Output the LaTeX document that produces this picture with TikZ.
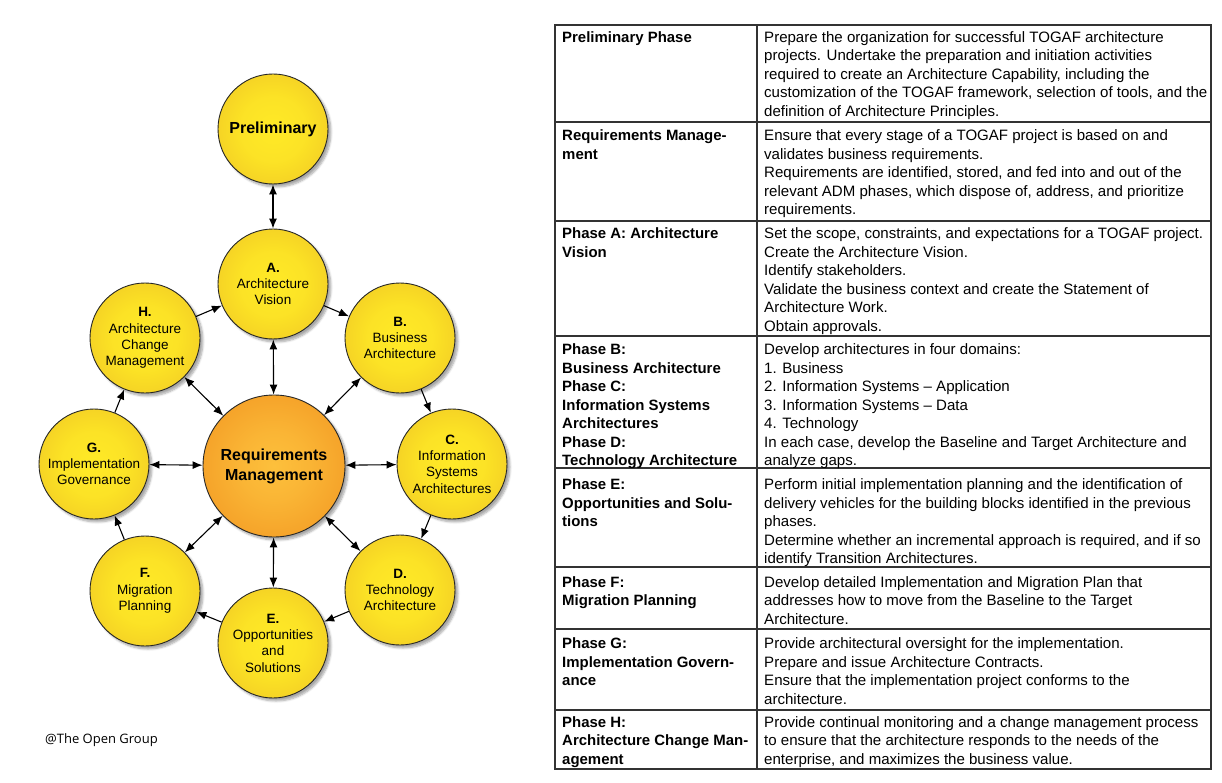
\documentclass[tikz,border=0pt]{standalone}
\usepackage{fontspec}
\setmainfont{Liberation Sans}
\newfontfamily\notefont{Open Sans}
\usetikzlibrary{positioning,shapes,arrows.meta,shadows.blur}

\definecolor{goldcore}{HTML}{FFEA26}
\definecolor{goldedge}{HTML}{E9B723}
\definecolor{orangecore}{HTML}{FDC03C}
\definecolor{orangeedge}{HTML}{EE8919}
\pgfdeclareradialshading{goldball}{\pgfpoint{0bp}{0bp}}{color(0bp)=(goldcore); color(15bp)=(goldcore!85!goldedge); color(45bp)=(goldedge); color(50bp)=(goldedge)}
\pgfdeclareradialshading{orangeball}{\pgfpoint{0bp}{0bp}}{color(0bp)=(orangecore); color(12bp)=(orangecore!80!orangeedge); color(45bp)=(orangeedge); color(50bp)=(orangeedge)}

\begin{document}
\begin{tikzpicture}[x=1pt,y=-1pt,
  phase/.style={draw=black!85, line width=0.9pt, circle, minimum size=110pt, inner sep=0pt,
    shading=goldball, blur shadow={shadow xshift=3pt, shadow yshift=-3pt, shadow opacity=35, shadow blur steps=6},
    align=center, font=\fontsize{13.5}{16.3}\selectfont},
  prelim/.style={phase, font=\bfseries\fontsize{16}{19}\selectfont},
  hub/.style={phase, minimum size=142pt, shading=orangeball, font=\bfseries\fontsize{16}{20}\selectfont},
  cyc/.style={-{Latex[length=10pt,width=8pt]}, line width=1.1pt},
  link/.style={{Latex[length=10pt,width=8pt]}-{Latex[length=10pt,width=8pt]}, line width=1.1pt},
  grid/.style={draw=black!80, line width=1.6pt},
  lefttxt/.style={anchor=north west, align=left, inner sep=0pt, font=\bfseries\fontsize{14.95}{18.5}\selectfont},
  righttxt/.style={anchor=north west, align=left, inner sep=0pt, font=\fontsize{15.05}{18.5}\selectfont}]
\useasboundingbox (0,0) rectangle (1222,783);

% the ADM cycle
\node[hub] (nreq) at (274,466) {Requirements\\Management};
\node[prelim] (nprelim) at (273,129) {Preliminary};
\node[phase] (na) at (273,284) {\textbf{A.}\\Architecture\\Vision};
\node[phase] (nb) at (400,338) {\textbf{B.}\\Business\\Architecture};
\node[phase] (nc) at (452,464) {\textbf{C.}\\Information\\Systems\\Architectures};
\node[phase] (nd) at (400,590) {\textbf{D.}\\Technology\\Architecture};
\node[phase] (ne) at (273,643) {\textbf{E.}\\Opportunities\\and\\Solutions};
\node[phase] (nf) at (145,591) {\textbf{F.}\\Migration\\Planning};
\node[phase] (ng) at (94,464) {\textbf{G.}\\Implementation\\Governance};
\node[phase] (nh) at (145,338) {\textbf{H.}\\Architecture\\Change\\Management};

\path (nprelim) edge[link] (na)
(na) edge[cyc] (nb)
(nb) edge[cyc] (nc)
(nc) edge[cyc] (nd)
(nd) edge[cyc] (ne)
(ne) edge[cyc] (nf)
(nf) edge[cyc] (ng)
(ng) edge[cyc] (nh)
(nh) edge[cyc] (na);
\foreach \p in {na,nb,nc,nd,ne,nf,ng,nh}
  \path (nreq) edge[link] (\p);

\node[anchor=west, inner sep=0pt, font=\notefont\fontsize{13}{15}\selectfont] (ncopy) at (45,740) {@The Open Group};

% the table
\draw[grid] (555,25) rectangle (1211,769);
\draw[grid] (757,25) -- (757,769);
\foreach \y in {122,221,336,468,567,629,710}
  \draw[grid] (555,\y) -- (1211,\y);

\node[lefttxt] (lprelim) at (562,31.2) {Preliminary Phase};
\node[righttxt] (rprelim) at (764,31.2) {Prepare the organization for successful TOGAF architecture\\
projects. Undertake the preparation and initiation activities\\
required to create an Architecture Capability, including the\\
customization of the TOGAF framework, selection of tools, and the\\
definition of Architecture Principles.};

\node[lefttxt] (lreq) at (562,129.5) {Requirements Manage-\\ment};
\node[righttxt] (rreq) at (764,129.5) {Ensure that every stage of a TOGAF project is based on and\\
validates business requirements.\\
Requirements are identified, stored, and fed into and out of the\\
relevant ADM phases, which dispose of, address, and prioritize\\
requirements.};

\node[lefttxt] (la) at (562,227.5) {Phase A: Architecture\\Vision};
\node[righttxt] (ra) at (764,227.5) {Set the scope, constraints, and expectations for a TOGAF project.\\
Create the Architecture Vision.\\
Identify stakeholders.\\
Validate the business context and create the Statement of\\
Architecture Work.\\
Obtain approvals.};

\node[lefttxt] (lbcd) at (562,343.8) {Phase B:\\Business Architecture\\Phase C:\\Information Systems\\Architectures\\Phase D:\\Technology Architecture};
\node[righttxt] (rbcd) at (764,343.8) {Develop architectures in four domains:\\
1. Business\\
2. Information Systems – Application\\
3. Information Systems – Data\\
4. Technology\\
In each case, develop the Baseline and Target Architecture and\\
analyze gaps.};

\node[lefttxt] (le) at (562,478.5) {Phase E:\\Opportunities and Solu-\\tions};
\node[righttxt] (re) at (764,478.5) {Perform initial implementation planning and the identification of\\
delivery vehicles for the building blocks identified in the previous\\
phases.\\
Determine whether an incremental approach is required, and if so\\
identify Transition Architectures.};

\node[lefttxt] (lf) at (562,576.2) {Phase F:\\Migration Planning};
\node[righttxt] (rf) at (764,576.2) {Develop detailed Implementation and Migration Plan that\\
addresses how to move from the Baseline to the Target\\
Architecture.};

\node[lefttxt] (lg) at (562,637.8) {Phase G:\\Implementation Govern-\\ance};
\node[righttxt] (rg) at (764,637.8) {Provide architectural oversight for the implementation.\\
Prepare and issue Architecture Contracts.\\
Ensure that the implementation project conforms to the\\
architecture.};

\node[lefttxt] (lh) at (562,716.2) {Phase H:\\Architecture Change Man-\\agement};
\node[righttxt] (rh) at (764,716.2) {Provide continual monitoring and a change management process\\
to ensure that the architecture responds to the needs of the\\
enterprise, and maximizes the business value.};
\end{tikzpicture}
\end{document}
